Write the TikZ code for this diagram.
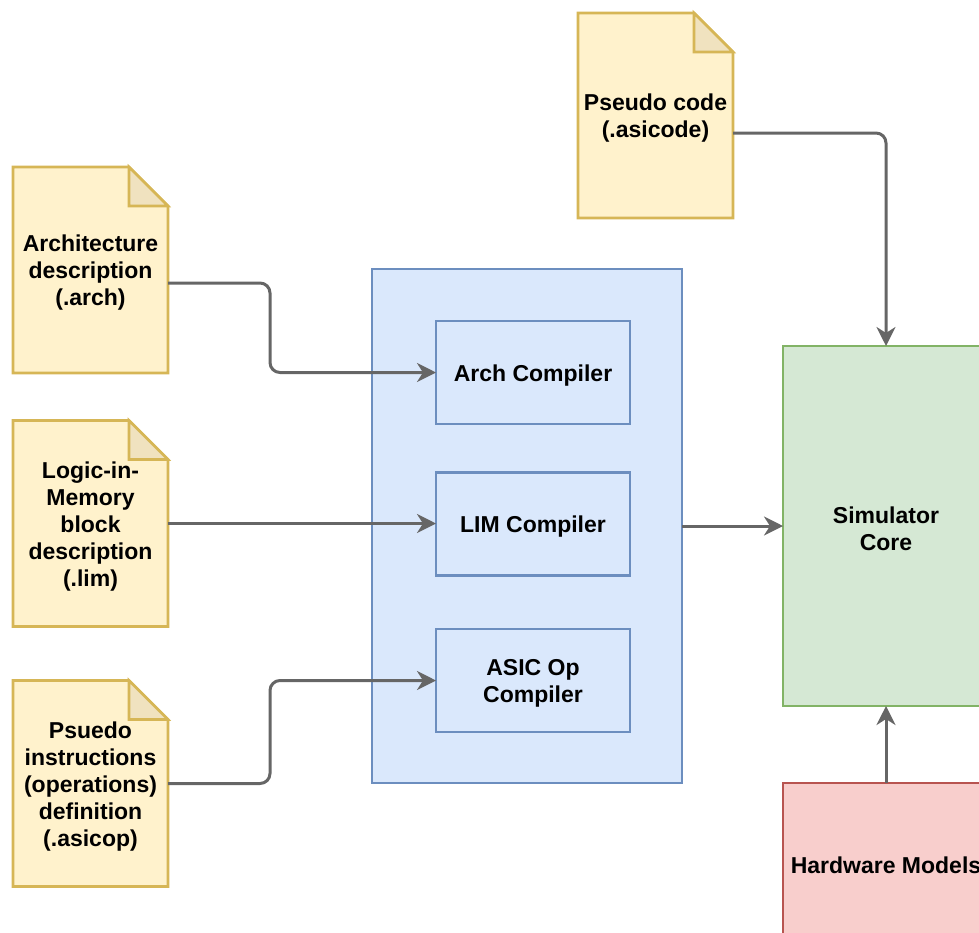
\documentclass[tikz,border=0pt]{standalone}
\usepackage{fontspec}
\setmainfont{Liberation Sans}
\usetikzlibrary{arrows.meta,backgrounds}

\definecolor{notefill}{HTML}{FFF2CC}
\definecolor{notestroke}{HTML}{D6B656}
\definecolor{notefold}{HTML}{F0E2BF}
\definecolor{bluefill}{HTML}{DAE8FC}
\definecolor{bluestroke}{HTML}{6C8EBF}
\definecolor{greenfill}{HTML}{D5E8D4}
\definecolor{greenstroke}{HTML}{82B366}
\definecolor{redfill}{HTML}{F8CECC}
\definecolor{redstroke}{HTML}{B85450}
\definecolor{wire}{HTML}{666666}

\tikzset{
  x=1pt, y=-1pt,
  every node/.style={inner sep=0pt, outer sep=0pt, align=center,
    font=\fontsize{23}{27}\selectfont\bfseries},
  % caption centred on its shape, set a little low like the editor does
  txt/.style={label={[yshift=-3pt]center:{#1}}},
  docnote/.style={minimum width=155pt, minimum height=206pt},
  notepaper/.style={draw=notestroke, fill=notefill, line width=2.6pt, line join=miter},
  notecorner/.style={draw=notestroke, fill=notefold, line width=2.6pt},
  bluebox/.style={draw=bluestroke, fill=bluefill, line width=2.6pt},
  greenbox/.style={draw=greenstroke, fill=greenfill, line width=2.6pt},
  redbox/.style={draw=redstroke, fill=redfill, line width=2.6pt},
  compbox/.style={bluebox, minimum width=194pt, minimum height=103pt},
  conn/.style={draw=wire, line width=3pt, rounded corners=10pt,
    -{Stealth[length=19pt, width=19pt, inset=6pt]}},
}

% dog-eared paper outline behind a note node
\newcommand\paperoutline[1]{%
  \path[notepaper] (#1.south west) -- (#1.north west)
    -- ([xshift=-39pt]#1.north east) -- ([yshift=-39pt]#1.north east)
    -- (#1.south east) -- cycle;
  \path[notecorner] ([xshift=-39pt]#1.north east)
    -- ([xshift=-39pt,yshift=-39pt]#1.north east)
    -- ([yshift=-39pt]#1.north east) -- cycle;
}

\begin{document}
\begin{tikzpicture}
\useasboundingbox (0,0) rectangle (979,932);

% input description files
\node[docnote, txt={Architecture\\description\\(.arch)}] (archn) at (90.5,270) {};
\node[docnote, txt={Logic-in-\\Memory\\block\\description\\(.lim)}] (limn) at (90.5,523.5) {};
\node[docnote, txt={Psuedo\\instructions\\(operations)\\definition\\(.asicop)}] (asicn) at (90.5,783.5) {};
\node[docnote, minimum height=205pt, txt={Pseudo code\\(.asicode)}] (pcn) at (655.5,115.5) {};

\begin{scope}[on background layer]
  \paperoutline{archn}
  \paperoutline{limn}
  \paperoutline{asicn}
  \paperoutline{pcn}
\end{scope}

% compiler group
\node[bluebox, minimum width=310pt, minimum height=514pt] (comp) at (527,526) {};
\node[compbox, txt={Arch Compiler}] (archc) at (533,372.5) {};
\node[compbox, txt={LIM Compiler}] (limc) at (533,524) {};
\node[compbox, txt={ASIC Op\\Compiler}] (asicc) at (533,680.5) {};

% simulator and hardware models
\node[greenbox, minimum width=206pt, minimum height=360pt, txt={Simulator\\Core}] (sim) at (886,526) {};
\node[redbox, minimum width=206pt, minimum height=158pt, txt={Hardware Models}] (hw) at (886,862) {};

% connectors
\draw[conn] ([yshift=-13pt]archn.east) -- ++(102,0) |- (archc.west);
\draw[conn] (limn.east) -- (limn.east -| limc.west);
\draw[conn] (asicn.east) -- ++(102,0) |- (asicc.west);
\draw[conn] (comp.east) -- (comp.east -| sim.west);
\draw[conn] ([yshift=-17.5pt]pcn.east) -| (sim.north);
\draw[conn] (hw.north) -- (sim.south);
\end{tikzpicture}
\end{document}
